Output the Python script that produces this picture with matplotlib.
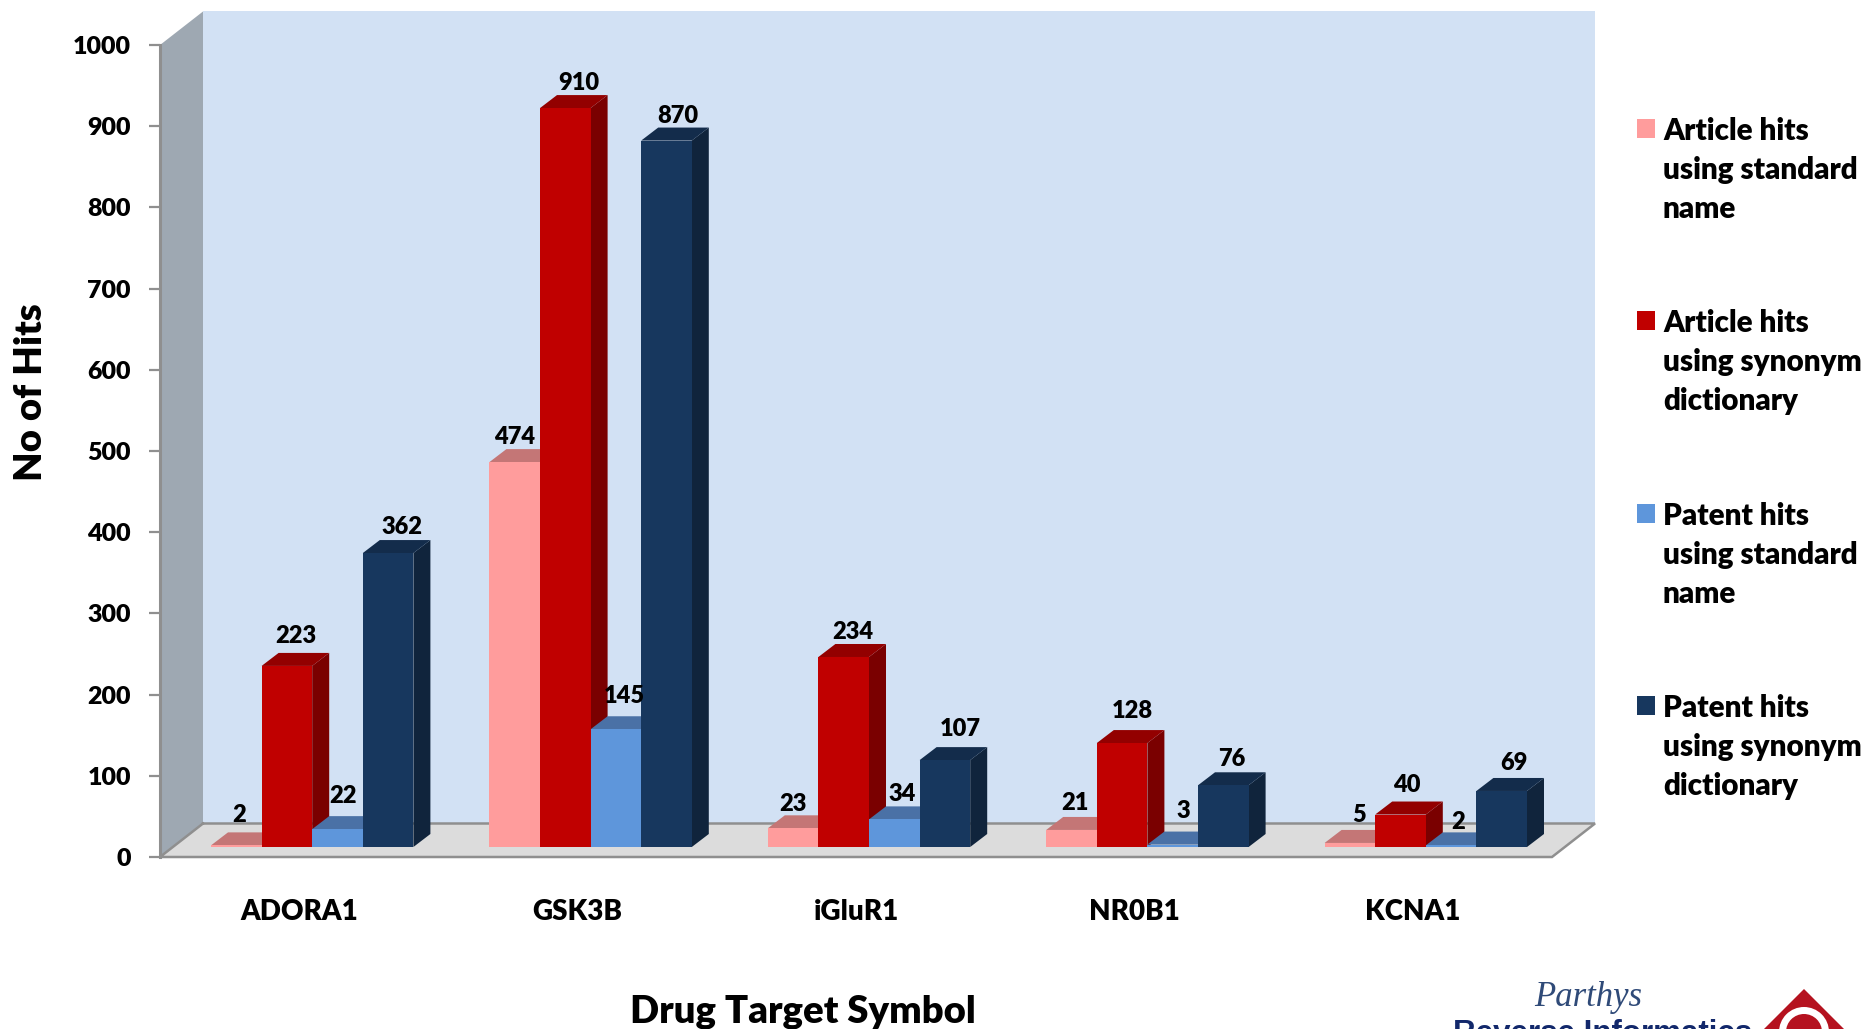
import matplotlib
matplotlib.use("Agg")
import matplotlib.pyplot as plt
from matplotlib.patches import Polygon, Rectangle, Circle

plt.rcParams['font.family'] = ['Lato', 'DejaVu Sans']
plt.rcParams['font.weight'] = 800

# Chart data
categories = ["ADORA1", "GSK3B", "iGluR1", "NR0B1", "KCNA1"]
article_standard = [2, 474, 23, 21, 5]
article_synonym = [223, 910, 234, 128, 40]
patent_standard = [22, 145, 34, 3, 2]
patent_synonym = [362, 870, 107, 76, 69]
series_names = [
    "Article hits\nusing standard\nname",
    "Article hits\nusing synonym\ndictionary",
    "Patent hits\nusing standard\nname",
    "Patent hits\nusing synonym\ndictionary",
]
y_ticks = list(range(0, 1001, 100))

# Front, top and side shades for each series
front_colors = ["#ff9c9c", "#c00000", "#5e96db", "#17375e"]
top_colors = ["#c47676", "#930000", "#4a71a6", "#132c4b"]
side_colors = ["#c47676", "#7a0000", "#3f6190", "#10243c"]
legend_colors = ["#ff9c9c", "#c00000", "#5e96db", "#17375e"]

# Hand placement of the value labels, in pixels (dx from bar centre, gap above bar)
label_dx = [[-6, 0, -3, 5], [-9, 5, 0, 3], [-9, 1, -1, 7], [-5, 2, 2, 0], [1, -2, -1, 4]]
label_gap = [[17, 17, 20, 13], [12, 12, 20, 12], [11, 12, 12, 18], [14, 19, 21, 13], [15, 17, 10, 15]]

W, H = 1864, 1029
fig = plt.figure(figsize=(W / 100, H / 100), dpi=100, facecolor="white")

# Axes frame spans the front floor edge and the value range
ax_l, ax_r, ax_b, ax_t = 160, 1552, 857, 45
ax = fig.add_axes([ax_l / W, 1 - ax_b / H, (ax_r - ax_l) / W, (ax_b - ax_t) / H])
ax.set_xlim(0, len(categories))
ax.set_ylim(0, 1000)
ax.patch.set_visible(False)
for s in ax.spines.values():
    s.set_visible(False)

px_x = len(categories) / (ax_r - ax_l)
px_y = 1000 / (ax_b - ax_t)

# Projection offsets of the chart box and of the bars
box_dx, box_dy = 43 * px_x, 33.5 * px_y
bar_dx, bar_dy = 17 * px_x, 13 * px_y
base = 10 * px_y
group_start = 51 * px_x
bar_w = 50.6 * px_x

edge = "#8f8f8f"
n = len(categories)


def poly(pts, color, z, ec="none", lw=0):
    ax.add_patch(Polygon(pts, closed=True, facecolor=color, edgecolor=ec, linewidth=lw,
                         zorder=z, clip_on=False))


# Back wall, side wall and floor
poly([(box_dx, box_dy), (n + box_dx, box_dy), (n + box_dx, 1000 + box_dy), (box_dx, 1000 + box_dy)], "#d2e1f4", 1)
poly([(0, 0), (box_dx, box_dy), (box_dx, 1000 + box_dy), (0, 1000)], "#9ea8b2", 1.5)
poly([(0, 0), (n, 0), (n + box_dx, box_dy), (box_dx, box_dy)], "#dcdcdc", 2)
ax.plot([box_dx, n + box_dx, n, 0, box_dx], [box_dy, box_dy, 0, 0, box_dy], color=edge, lw=1.8, zorder=2.5,
        clip_on=False, solid_joinstyle="miter")
ax.plot([0, 0], [0, 1000], color=edge, lw=2.2, zorder=2.5, clip_on=False)

# Bars drawn left to right so each one overlaps its neighbour's side face
all_series = [article_standard, article_synonym, patent_standard, patent_synonym]
z = 3
for g in range(n):
    for k, series in enumerate(all_series):
        v = series[g]
        x0 = g + group_start + k * bar_w
        x1 = x0 + bar_w
        y0, y1 = base, base + v
        poly([(x1, y0), (x1 + bar_dx, y0 + bar_dy), (x1 + bar_dx, y1 + bar_dy), (x1, y1)], side_colors[k], z)
        poly([(x0, y1), (x1, y1), (x1 + bar_dx, y1 + bar_dy), (x0 + bar_dx, y1 + bar_dy)], top_colors[k], z + 0.1)
        poly([(x0, y0), (x1, y0), (x1, y1), (x0, y1)], front_colors[k], z + 0.2)
        ax.annotate(str(v), xy=((x0 + x1) / 2 + bar_dx / 2, y1 + bar_dy), xycoords="data",
                    xytext=(label_dx[g][k] * 0.72, label_gap[g][k] * 0.72), textcoords="offset points",
                    ha="center", va="center", fontsize=17, color="black", zorder=50, annotation_clip=False)
        z += 0.3

# Axis ticks and labels
ax.set_yticks(y_ticks)
ax.set_yticklabels([str(t) for t in y_ticks], fontsize=18)
ax.tick_params(axis="y", length=8, width=1.6, color=edge, pad=13, labelcolor="black")
ax.set_xticks([i + 0.5 for i in range(n)])
ax.set_xticklabels(categories, fontsize=20)
ax.tick_params(axis="x", length=0, pad=30, labelcolor="black")

fig.text(803 / W, 1 - 1012 / H, "Drug Target Symbol", ha="center", va="center", fontsize=27.5, color="black")
fig.text(31 / W, 1 - 392 / H, "No of Hits", ha="center", va="center", rotation=90, fontsize=27.5, color="black")

# Overlay in pixel units for the legend and the logo
ov = fig.add_axes([0, 0, 1, 1], zorder=60)
ov.set_xlim(0, W)
ov.set_ylim(H, 0)
ov.axis("off")
ov.patch.set_visible(False)

legend_y = [170, 362, 555, 747]
for name, c, yc in zip(series_names, legend_colors, legend_y):
    ov.add_patch(Rectangle((1637, yc - 51), 18, 19, facecolor=c, edgecolor="none"))
    for i, line in enumerate(name.split("\n")):
        ov.text(1663, yc - 39 + 39 * i, line, ha="left", va="center", fontsize=21.3, color="black")

# Publisher logo at the lower right
ov.text(1588, 998, "Parthys", family=["Liberation Serif"], style="italic", weight="normal", fontsize=25,
        color="#2f4a78", ha="center", va="center")
ov.text(1453, 1034, "Reverse Informatics", family=["Liberation Sans"], weight="bold", fontsize=22.5,
        color="#12286b", ha="left", va="center", clip_on=True)
ov.add_patch(Polygon([(1804, 989), (1847, 1032), (1761, 1032)], closed=True, facecolor="#b5121f", edgecolor="none"))
ov.add_patch(Circle((1804, 1032), 25, facecolor="white", edgecolor="none"))
ov.add_patch(Circle((1804, 1032), 18, facecolor="#b5121f", edgecolor="none"))

fig.savefig("out.png", dpi=100, facecolor="white")
